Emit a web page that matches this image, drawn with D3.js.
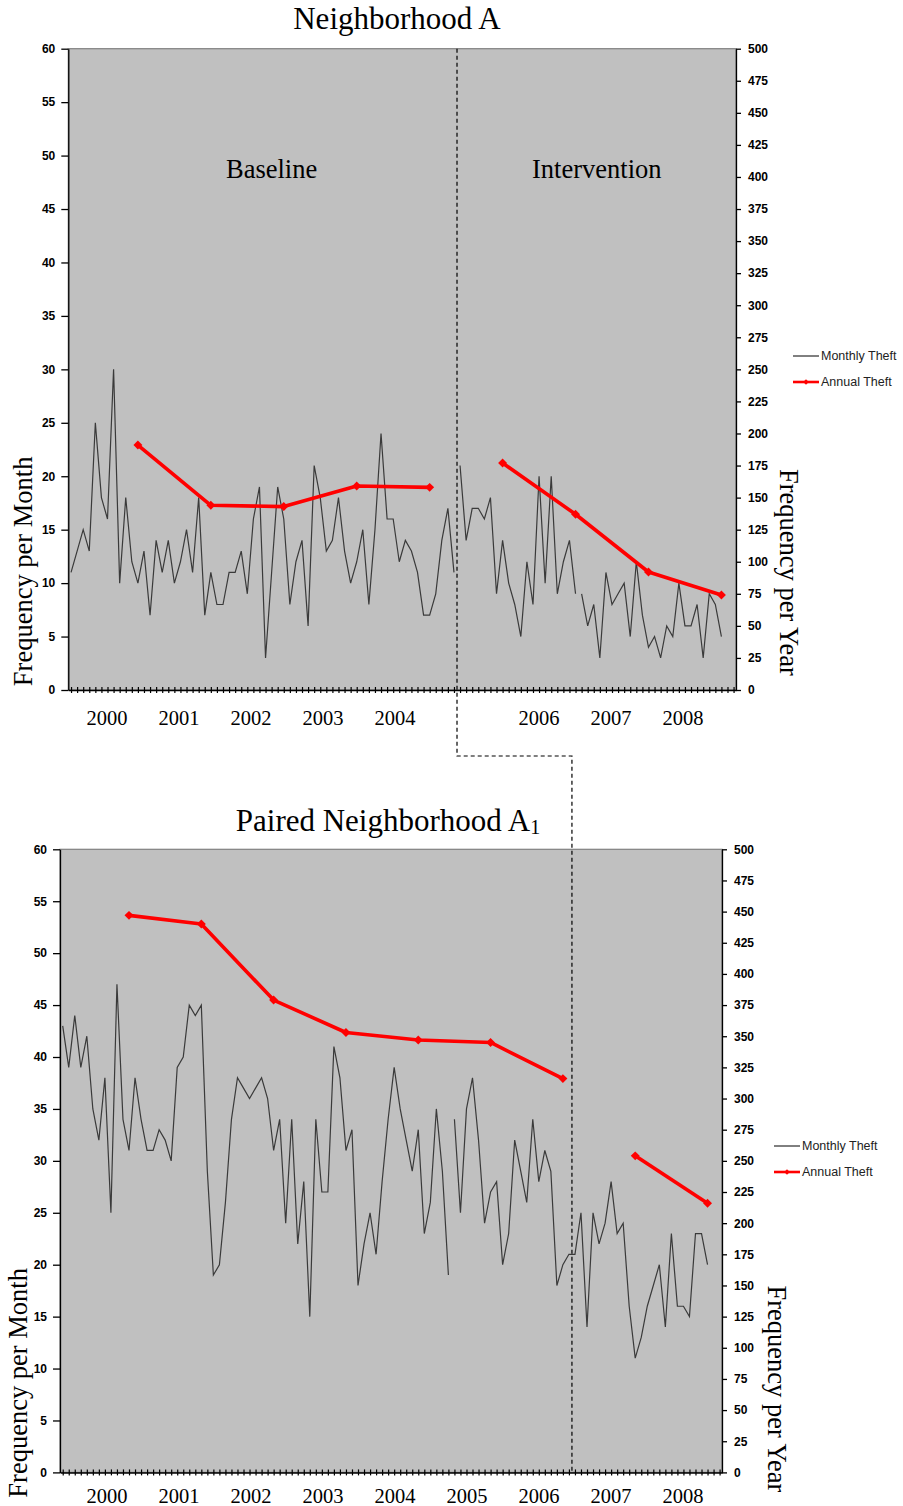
<!DOCTYPE html>
<html><head><meta charset="utf-8">
<script src="https://cdn.jsdelivr.net/npm/d3@7"></script>
<style>body{margin:0;background:#fff}svg{display:block}</style>
</head><body>
<svg id="c" width="903" height="1506"></svg>
<script>
// ---------------- data ----------------
const years = ["2000","2001","2002","2003","2004","2005","2006","2007","2008"];
const yearLabelsA  = ["2000","2001","2002","2003","2004","2006","2007","2008"];
const yearLabelsA1 = ["2000","2001","2002","2003","2004","2005","2006","2007","2008"];

// Monthly theft, Jan 2000 .. Dec 2008 (108 months)
const monthlyA = [
  11,13,15,13,25,18,16,30,10,18,12,10,
  13,7,14,11,14,10,12,15,11,18,7,11,
  8,8,11,11,13,9,16,19,3,11,19,16,
  8,12,14,6,21,18,13,14,18,13,10,12,
  15,8,15,24,16,16,12,14,13,11,7,7,
  9,14,17,11,21,14,17,17,16,18,9,14,
  10,8,5,12,8,20,10,20,9,12,14,9,
  9,6,8,3,11,8,9,10,5,12,7,4,
  5,3,6,5,10,6,6,8,3,9,8,5
];
const monthlyRunsA = [0, 64, 84];        // month index where an unconnected run starts

const monthlyA1 = [
  43,39,44,39,42,35,32,38,25,47,34,31,
  38,34,31,31,33,32,30,39,40,45,44,45,
  29,19,20,26,34,38,37,36,37,38,36,31,
  34,24,34,22,28,15,34,27,27,41,38,31,
  33,18,22,25,21,28,34,39,35,32,29,33,
  23,26,35,29,19,34,25,35,38,32,24,27,
  28,20,23,32,29,26,34,28,31,29,18,20,
  21,21,25,14,25,22,24,28,23,24,16,11,
  13,16,18,20,14,23,16,16,15,23,23,20
];
const monthlyRunsA1 = [0, 65];

// Annual theft (right axis), one value per year, plotted at December
const annualA  = [191,144,143,159,158,177,137,92,74];
const annualRunsA = [0, 5];
const annualA1 = [447,440,379,353,347,345,316,254,216];
const annualRunsA1 = [0, 7];

const leftTicks  = [0,5,10,15,20,25,30,35,40,45,50,55,60];
const rightTicks = [0,25,50,75,100,125,150,175,200,225,250,275,300,325,350,375,400,425,450,475,500];

const phaseLabels = [{text:"Baseline", month:33, value:47.9},{text:"Intervention", month:86.5, value:47.9}];
const interventionMonthA = 63.5, interventionMonthA1 = 84.5;
const legendItems = ["Monthly Theft","Annual Theft"];

// ---------------- drawing ----------------
const svg = d3.select("#c");
const SERIF = "'Liberation Serif','Times New Roman',serif";
const SANS  = "'Liberation Sans',Arial,sans-serif";

function runs(values, starts, monthOf){
  const out = [];
  starts.forEach((s,i)=>{
    const e = i+1<starts.length ? starts[i+1] : values.length;
    out.push(d3.range(s,e).map(k=>({m:monthOf(k), v:values[k]})));
  });
  return out;
}

function drawChart(cfg){
  const g = svg.append("g");
  const x  = d3.scaleLinear().domain([-0.45,109.4]).range([cfg.left,cfg.right]);
  const y  = d3.scaleLinear().domain([0,60]).range([cfg.bottom,cfg.top]);
  const y2 = d3.scaleLinear().domain([0,500]).range([cfg.bottom,cfg.top]);
  const yb = d3.scaleBand().domain(years).range([71,719]);

  g.append("rect").attr("x",cfg.left).attr("y",cfg.top)
    .attr("width",cfg.right-cfg.left).attr("height",cfg.bottom-cfg.top)
    .attr("fill","#c0c0c0").attr("stroke","#808080").attr("stroke-width",1.2);

  // left axis
  const la = g.append("g").attr("transform",`translate(${cfg.left},0)`)
    .call(d3.axisLeft(y).tickValues(leftTicks).tickSize(7).tickSizeOuter(0).tickPadding(6));
  la.select(".domain").attr("stroke","#000").attr("stroke-width",1.3);
  la.selectAll("line").attr("stroke","#000").attr("stroke-width",1.3);
  la.selectAll("text").attr("font-family",SANS).attr("font-size",12).attr("font-weight","bold").attr("fill","#000");

  // right axis
  const ra = g.append("g").attr("transform",`translate(${cfg.right},0)`)
    .call(d3.axisRight(y2).tickValues(rightTicks).tickSize(5).tickSizeOuter(0).tickPadding(7));
  ra.select(".domain").attr("stroke","#000").attr("stroke-width",1.3);
  ra.selectAll("line").attr("stroke","#000").attr("stroke-width",1.3);
  ra.selectAll("text").attr("font-family",SANS).attr("font-size",12).attr("font-weight","bold").attr("fill","#000");

  // bottom axis with monthly cross ticks
  const ba = g.append("g").attr("transform",`translate(0,${cfg.bottom})`)
    .call(d3.axisBottom(x).tickValues(d3.range(0,110)).tickSize(3).tickSizeOuter(0).tickFormat(""));
  ba.select(".domain").attr("stroke","#000").attr("stroke-width",1.5);
  ba.selectAll(".tick line").attr("y1",-3).attr("stroke","#000").attr("stroke-width",1.2);

  // year labels
  g.selectAll(".yr").data(cfg.yearLabels).join("text")
    .attr("x",d=>yb(d)+yb.bandwidth()/2).attr("y",cfg.bottom+cfg.yearOffset)
    .attr("text-anchor","middle").attr("font-family",SERIF).attr("font-size",20.5)
    .text(d=>d);

  // monthly line
  const line = d3.line().x(d=>x(d.m)).y(d=>y(d.v));
  g.selectAll(".mon").data(runs(cfg.monthly,cfg.monthlyRuns,k=>k)).join("path")
    .attr("d",line).attr("fill","none").attr("stroke","#3a3a3a").attr("stroke-width",1.2);

  // annual line
  const line2 = d3.line().x(d=>x(d.m)).y(d=>y2(d.v));
  const ar = runs(cfg.annual,cfg.annualRuns,k=>11+12*k);
  g.selectAll(".ann").data(ar).join("path")
    .attr("d",line2).attr("fill","none").attr("stroke","#ff0000").attr("stroke-width",3.6)
    .attr("stroke-linejoin","round");
  g.selectAll(".mk").data(ar.flat()).join("path")
    .attr("d",d3.symbol(d3.symbolSquare).size(40)())
    .attr("transform",d=>`translate(${x(d.m)},${y2(d.v)}) rotate(45)`)
    .attr("fill","#ff0000");

  // titles
  const t = g.append("text").attr("x",cfg.titleX).attr("y",cfg.titleY)
    .attr("text-anchor","middle").attr("font-family",SERIF).attr("font-size",31);
  t.append("tspan").text(cfg.title);
  if(cfg.titleSub) t.append("tspan").attr("font-size",20).attr("dy",3).text(cfg.titleSub);

  g.append("text").attr("transform",`translate(${cfg.leftTitleX},${(cfg.top+cfg.bottom)/2+cfg.leftTitleDy}) rotate(-90)`)
    .attr("text-anchor","middle").attr("dominant-baseline","central")
    .attr("font-family",SERIF).attr("font-size",26.5).text("Frequency per Month");
  g.append("text").attr("transform",`translate(${cfg.rightTitleX},${(cfg.top+cfg.bottom)/2+cfg.rightTitleDy}) rotate(90)`)
    .attr("text-anchor","middle").attr("dominant-baseline","central")
    .attr("font-family",SERIF).attr("font-size",26.5).text("Frequency per Year");

  // legend
  const lg = g.append("g").attr("transform",`translate(${cfg.legendX},${cfg.legendY})`);
  legendItems.forEach((name,i)=>{
    const yy = i*26;
    lg.append("line").attr("x1",0).attr("x2",26).attr("y1",yy).attr("y2",yy)
      .attr("stroke",i?"#ff0000":"#000").attr("stroke-width",i?2.6:1);
    if(i) lg.append("path").attr("d",d3.symbol(d3.symbolSquare).size(16)())
      .attr("transform",`translate(13,${yy}) rotate(45)`).attr("fill","#ff0000");
    lg.append("text").attr("x",28).attr("y",yy).attr("dy","0.35em")
      .attr("font-family",SANS).attr("font-size",12.5).attr("fill","#222").text(name);
  });

  if(cfg.phases){
    g.selectAll(".ph").data(cfg.phases).join("text")
      .attr("x",d=>x(d.month)).attr("y",d=>y(d.value))
      .attr("text-anchor","middle").attr("font-family",SERIF).attr("font-size",26.5)
      .text(d=>d.text);
  }
  return {x,y};
}

const A = drawChart({
  left:68.3, right:736, top:48.7, bottom:690,
  yearLabels:yearLabelsA, yearOffset:35,
  monthly:monthlyA, monthlyRuns:monthlyRunsA, annual:annualA, annualRuns:annualRunsA,
  title:"Neighborhood A", titleX:397, titleY:29,
  leftTitleX:23, leftTitleDy:202, rightTitleX:789, rightTitleDy:203,
  legendX:793, legendY:356, phases:phaseLabels
});
const B = drawChart({
  left:60, right:722, top:849.3, bottom:1472.4,
  yearLabels:yearLabelsA1, yearOffset:31,
  monthly:monthlyA1, monthlyRuns:monthlyRunsA1, annual:annualA1, annualRuns:annualRunsA1,
  title:"Paired Neighborhood A", titleSub:"1", titleX:388, titleY:831,
  leftTitleX:18, leftTitleDy:222, rightTitleX:777, rightTitleDy:228,
  legendX:774, legendY:1146
});

// dashed connector marking the intervention start in both neighborhoods
const xa = A.x(interventionMonthA), xb = B.x(interventionMonthA1), yMid = 756;
svg.append("path")
  .attr("d",`M${xa},${A.y(60)}V${yMid}H${xb}V${B.y(0)}`)
  .attr("fill","none").attr("stroke","#000").attr("stroke-width",1.2)
  .attr("stroke-dasharray","4,3");
</script>
</body></html>
